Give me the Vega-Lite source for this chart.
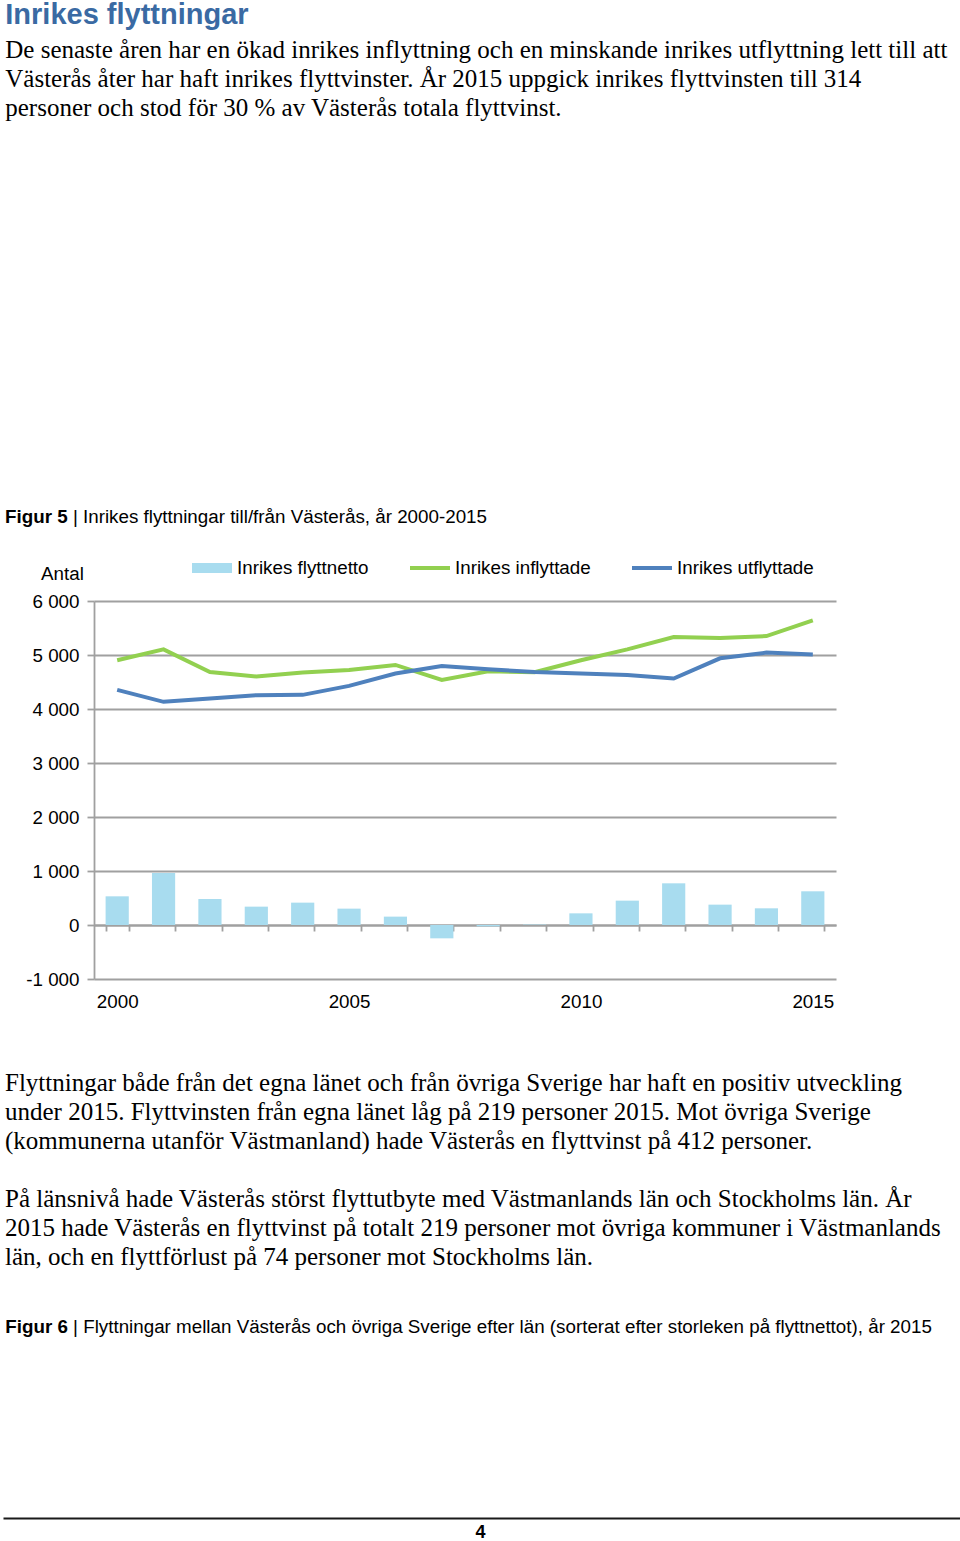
{
  "$schema": "https://vega.github.io/schema/vega-lite/v6.json",
  "background": "white",
  "padding": {"left": 0, "top": 1, "right": 0, "bottom": 0},
  "title": {
    "text": "Inrikes flyttningar",
    "subtitle": [
      "De senaste åren har en ökad inrikes inflyttning och en minskande inrikes utflyttning lett till att",
      "Västerås åter har haft inrikes flyttvinster. År 2015 uppgick inrikes flyttvinsten till 314",
      "personer och stod för 30 % av Västerås totala flyttvinst."
    ],
    "anchor": "start",
    "dx": 5,
    "font": "Liberation Sans",
    "fontSize": 29,
    "fontWeight": "bold",
    "color": "#3a6aa3",
    "subtitleFont": "Liberation Serif",
    "subtitleFontSize": 25,
    "subtitleColor": "#000000",
    "subtitleLineHeight": 29,
    "subtitlePadding": 8,
    "offset": 387
  },
  "columns": 1,
  "align": "none",
  "spacing": 48,
  "concat": [
    {
      "width": 742,
      "height": 378,
      "title": {
        "text": "Figur 5",
        "subtitle": "\u200b\u00a0\u00a0\u00a0\u00a0\u00a0\u00a0\u00a0\u00a0\u00a0\u00a0\u00a0\u00a0\u00a0| Inrikes flyttningar till/från Västerås, år 2000-2015",
        "anchor": "start",
        "dx": -20.7,
        "offset": 37,
        "font": "Liberation Sans",
        "fontSize": 18.8,
        "fontWeight": "bold",
        "color": "#000000",
        "subtitleFont": "Liberation Sans",
        "subtitleFontSize": 18.8,
        "subtitleColor": "#000000",
        "subtitlePadding": -18.8
      },
      "data": {
        "values": [
          {"year": 2000, "serie": "Inrikes flyttnetto", "value": 531},
          {"year": 2001, "serie": "Inrikes flyttnetto", "value": 963},
          {"year": 2002, "serie": "Inrikes flyttnetto", "value": 481},
          {"year": 2003, "serie": "Inrikes flyttnetto", "value": 340},
          {"year": 2004, "serie": "Inrikes flyttnetto", "value": 414},
          {"year": 2005, "serie": "Inrikes flyttnetto", "value": 303},
          {"year": 2006, "serie": "Inrikes flyttnetto", "value": 155},
          {"year": 2007, "serie": "Inrikes flyttnetto", "value": -247},
          {"year": 2008, "serie": "Inrikes flyttnetto", "value": -25},
          {"year": 2009, "serie": "Inrikes flyttnetto", "value": 8},
          {"year": 2010, "serie": "Inrikes flyttnetto", "value": 216},
          {"year": 2011, "serie": "Inrikes flyttnetto", "value": 451},
          {"year": 2012, "serie": "Inrikes flyttnetto", "value": 772},
          {"year": 2013, "serie": "Inrikes flyttnetto", "value": 377},
          {"year": 2014, "serie": "Inrikes flyttnetto", "value": 309},
          {"year": 2015, "serie": "Inrikes flyttnetto", "value": 624},
          {"year": 2000, "serie": "Inrikes inflyttade", "value": 4902},
          {"year": 2001, "serie": "Inrikes inflyttade", "value": 5105},
          {"year": 2002, "serie": "Inrikes inflyttade", "value": 4686},
          {"year": 2003, "serie": "Inrikes inflyttade", "value": 4601},
          {"year": 2004, "serie": "Inrikes inflyttade", "value": 4675},
          {"year": 2005, "serie": "Inrikes inflyttade", "value": 4723},
          {"year": 2006, "serie": "Inrikes inflyttade", "value": 4816},
          {"year": 2007, "serie": "Inrikes inflyttade", "value": 4539},
          {"year": 2008, "serie": "Inrikes inflyttade", "value": 4700},
          {"year": 2009, "serie": "Inrikes inflyttade", "value": 4680},
          {"year": 2010, "serie": "Inrikes inflyttade", "value": 4902},
          {"year": 2011, "serie": "Inrikes inflyttade", "value": 5105},
          {"year": 2012, "serie": "Inrikes inflyttade", "value": 5332},
          {"year": 2013, "serie": "Inrikes inflyttade", "value": 5314},
          {"year": 2014, "serie": "Inrikes inflyttade", "value": 5351},
          {"year": 2015, "serie": "Inrikes inflyttade", "value": 5640},
          {"year": 2000, "serie": "Inrikes utflyttade", "value": 4354},
          {"year": 2001, "serie": "Inrikes utflyttade", "value": 4133},
          {"year": 2002, "serie": "Inrikes utflyttade", "value": 4196},
          {"year": 2003, "serie": "Inrikes utflyttade", "value": 4256},
          {"year": 2004, "serie": "Inrikes utflyttade", "value": 4262},
          {"year": 2005, "serie": "Inrikes utflyttade", "value": 4428},
          {"year": 2006, "serie": "Inrikes utflyttade", "value": 4657},
          {"year": 2007, "serie": "Inrikes utflyttade", "value": 4797},
          {"year": 2008, "serie": "Inrikes utflyttade", "value": 4736},
          {"year": 2009, "serie": "Inrikes utflyttade", "value": 4686},
          {"year": 2010, "serie": "Inrikes utflyttade", "value": 4657},
          {"year": 2011, "serie": "Inrikes utflyttade", "value": 4631},
          {"year": 2012, "serie": "Inrikes utflyttade", "value": 4565},
          {"year": 2013, "serie": "Inrikes utflyttade", "value": 4939},
          {"year": 2014, "serie": "Inrikes utflyttade", "value": 5044},
          {"year": 2015, "serie": "Inrikes utflyttade", "value": 5007}
        ]
      },
      "encoding": {
        "x": {
          "field": "year",
          "type": "ordinal",
          "scale": {"paddingInner": 0.5, "paddingOuter": 0.25},
          "axis": {
            "orient": "bottom",
            "offset": -54,
            "title": null,
            "grid": false,
            "domainColor": "#a0a0a0",
            "domainWidth": 1.8,
            "tickBand": "extent",
            "tickSize": 6,
            "tickColor": "#a0a0a0",
            "tickWidth": 1.8,
            "labelAngle": 0,
            "labelExpr": "datum.value % 5 === 0 ? datum.label : ''",
            "labelPadding": 61,
            "labelFont": "Liberation Sans",
            "labelFontSize": 18.8,
            "labelColor": "#000000"
          }
        },
        "y": {
          "field": "value",
          "type": "quantitative",
          "stack": null,
          "scale": {"domain": [-1000, 6000], "nice": false, "zero": false},
          "axis": {
            "values": [-1000, 0, 1000, 2000, 3000, 4000, 5000, 6000],
            "title": "Antal",
            "titleAngle": 0,
            "titleX": -32,
            "titleY": -28,
            "titleAlign": "center",
            "titleBaseline": "middle",
            "titleFont": "Liberation Sans",
            "titleFontSize": 18.8,
            "titleFontWeight": "normal",
            "titleColor": "#000000",
            "labelFont": "Liberation Sans",
            "labelFontSize": 18.8,
            "labelColor": "#000000",
            "labelPadding": 8,
            "tickSize": 7,
            "tickColor": "#a0a0a0",
            "tickWidth": 1.8,
            "domainColor": "#a0a0a0",
            "domainWidth": 1.8,
            "gridColor": "#a0a0a0",
            "gridWidth": 1.8,
            "labelExpr": "(datum.value < 0 ? '-' : '') + replace(format(abs(datum.value), ','), ',', ' ')"
          }
        },
        "color": {
          "field": "serie",
          "type": "nominal",
          "scale": {
            "domain": ["Inrikes flyttnetto", "Inrikes inflyttade", "Inrikes utflyttade"],
            "range": ["#a8dcef", "#92d050", "#4f81bd"]
          },
          "legend": {
            "title": null,
            "orient": "none",
            "legendX": 98,
            "legendY": -53,
            "direction": "horizontal",
            "columns": 3,
            "padding": 0,
            "symbolSize": 1600,
            "symbolStrokeWidth": 0,
            "labelFont": "Liberation Sans",
            "labelFontSize": 18.8,
            "labelColor": "#000000",
            "labelOffset": 5,
            "labelLimit": 300,
            "columnPadding": 41,
            "encode": {
              "symbols": {
                "update": {
                  "shape": {"signal": "datum.value === 'Inrikes flyttnetto' ? 'M-1,-0.25H1V0.25H-1Z' : 'M-1,-0.1H1V0.1H-1Z'"},
                  "fill": {"scale": "color", "field": "value"},
                  "stroke": {"value": "transparent"},
                  "strokeWidth": {"value": 0},
                  "opacity": {"value": 1}
                }
              }
            }
          }
        }
      },
      "layer": [
        {
          "transform": [{"filter": "datum.serie === 'Inrikes flyttnetto'"}],
          "mark": {"type": "bar"}
        },
        {
          "transform": [{"filter": "datum.serie !== 'Inrikes flyttnetto'"}],
          "mark": {"type": "line", "strokeWidth": 4}
        }
      ]
    },
    {
      "width": 866,
      "height": 2,
      "title": {
        "text": [
          "Flyttningar både från det egna länet och från övriga Sverige har haft en positiv utveckling",
          "under 2015. Flyttvinsten från egna länet låg på 219 personer 2015. Mot övriga Sverige",
          "(kommunerna utanför Västmanland) hade Västerås en flyttvinst på 412 personer.",
          "\u200b",
          "På länsnivå hade Västerås störst flyttutbyte med Västmanlands län och Stockholms län. År",
          "2015 hade Västerås en flyttvinst på totalt 219 personer mot övriga kommuner i Västmanlands",
          "län, och en flyttförlust på 74 personer mot Stockholms län."
        ],
        "orient": "bottom",
        "anchor": "start",
        "dx": -89,
        "offset": 6,
        "font": "Liberation Serif",
        "fontSize": 25,
        "fontWeight": "normal",
        "lineHeight": 29,
        "color": "#000000"
      },
      "data": {"values": [{"p": 0}]},
      "mark": {"type": "point", "opacity": 0}
    },
    {
      "width": 866,
      "height": 171,
      "title": {
        "text": "Figur 6",
        "subtitle": "\u200b\u00a0\u00a0\u00a0\u00a0\u00a0\u00a0\u00a0\u00a0\u00a0\u00a0\u00a0\u00a0\u00a0| Flyttningar mellan Västerås och övriga Sverige efter län (sorterat efter storleken på flyttnettot), år 2015",
        "anchor": "start",
        "dx": 5,
        "offset": 10,
        "font": "Liberation Sans",
        "fontSize": 18.8,
        "fontWeight": "bold",
        "color": "#000000",
        "subtitleFont": "Liberation Sans",
        "subtitleFontSize": 18.8,
        "subtitleColor": "#000000",
        "subtitlePadding": -18.8
      },
      "data": {"values": [{"p": 0}]},
      "mark": {"type": "point", "opacity": 0},
      "encoding": {
        "x": {
          "field": "p",
          "type": "quantitative",
          "scale": {"domain": [0, 1], "range": [-91, 866]},
          "axis": {
            "orient": "bottom",
            "domainColor": "#1a1a1a",
            "domainWidth": 2,
            "ticks": false,
            "labels": false,
            "grid": false,
            "title": "4",
            "titleX": 386,
            "titleFont": "Liberation Sans Narrow, Liberation Sans",
            "titleFontSize": 18,
            "titleFontWeight": "bold",
            "titleColor": "#000000",
            "titlePadding": 5
          }
        }
      }
    }
  ],
  "config": {
    "view": {"stroke": null},
    "font": "Liberation Sans"
  }
}
